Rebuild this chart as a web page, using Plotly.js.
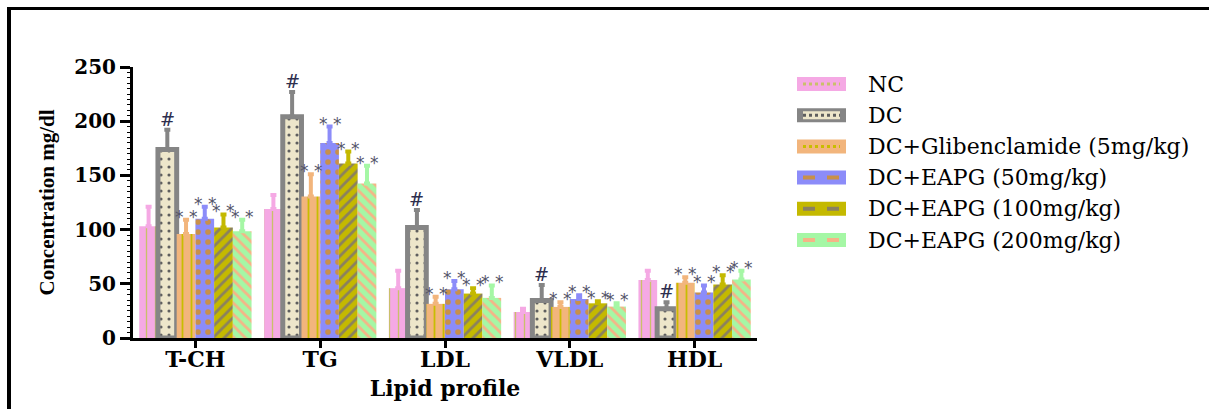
<!DOCTYPE html>
<html>
<head>
<meta charset="utf-8">
<script src="https://cdn.plot.ly/plotly-3.0.1.min.js"></script>
<style>
  html, body { margin: 0; padding: 0; background: #ffffff; }
  #wrap { position: relative; width: 1209px; height: 409px; overflow: hidden; }
  #chart { position: absolute; left: 0; top: 0; width: 1209px; height: 409px; }
  #frame { position: absolute; left: 7px; top: 7px; width: 1400px; height: 600px;
           border-top: 3px solid #000; border-left: 4px solid #000; pointer-events: none; }
</style>
</head>
<body>
<div id="wrap"><div id="chart"></div><div id="frame"></div></div>
<script>
// ---------------- data ----------------
const categories = ['T-CH', 'TG', 'LDL', 'VLDL', 'HDL'];
const seriesNames = ['NC', 'DC', 'DC+Glibenclamide (5mg/kg)', 'DC+EAPG (50mg/kg)',
                     'DC+EAPG (100mg/kg)', 'DC+EAPG (200mg/kg)'];

const ncMean      = [103, 119, 46, 24, 53.4];
const ncErr       = [18, 13, 16, 3, 8.6];
const dcMean      = [174, 204, 102, 34.6, 27];
const dcErr       = [18, 23, 16, 14.4, 6];
const glibMean    = [96, 130.5, 31.5, 28.7, 51];
const glibErr     = [13, 20.5, 6.5, 4.3, 5];
const eapg50Mean  = [110, 180, 45, 36, 42];
const eapg50Err   = [11, 15, 7.5, 3.5, 6.5];
const eapg100Mean = [102, 161, 41, 32, 49.4];
const eapg100Err  = [12, 11, 5, 2, 8.6];
const eapg200Mean = [98.5, 142.6, 37, 29, 54];
const eapg200Err  = [10.5, 16.4, 11.5, 3, 8];

const ncSig      = ['', '', '', '', ''];
const dcSig      = ['#', '#', '#', '#', '#'];
const glibSig    = ['* *', '* *', '* *', '* *', '* *'];
const eapg50Sig  = ['* *', '* *', '* *', '* *', '* *'];
const eapg100Sig = ['* *', '* *', '* *', '* *', '* *'];
const eapg200Sig = ['* *', '* *', '* *', '* *', '* *'];

const yTicks = [0, 50, 100, 150, 200, 250];

// ---------------- styles ----------------
const styles = [
  {color: '#f5a9e4', err: '#f5a9e4', shape: '|', fg: '#c9c06a', size: 9, sol: 0.15, line: 0, lineColor: '#f5a9e4'},
  {color: '#ede6ca', err: '#858585', shape: '.', fg: '#5e5e5e', size: 8, sol: 0.12, line: 5, lineColor: '#858585'},
  {color: '#f2b57c', err: '#f2b57c', shape: '|', fg: '#c8bd00', size: 9, sol: 0.2, line: 0, lineColor: '#f2b57c'},
  {color: '#8c8cf9', err: '#8c8cf9', shape: '.', fg: '#c8904a', size: 10, sol: 0.25, line: 0, lineColor: '#8c8cf9'},
  {color: '#c4b900', err: '#c4b900', shape: '/', fg: '#8a8060', size: 8, sol: 0.35, line: 0, lineColor: '#c4b900'},
  {color: '#a5f7a5', err: '#a5f7a5', shape: '\\', fg: '#f5b487', size: 8, sol: 0.35, line: 0, lineColor: '#a5f7a5'}
];

const means = [ncMean, dcMean, glibMean, eapg50Mean, eapg100Mean, eapg200Mean];
const errs  = [ncErr, dcErr, glibErr, eapg50Err, eapg100Err, eapg200Err];
const sigs  = [ncSig, dcSig, glibSig, eapg50Sig, eapg100Sig, eapg200Sig];

const traces = means.map((m, k) => ({
  type: 'bar',
  name: seriesNames[k],
  x: categories,
  y: m,
  showlegend: false,
  marker: {
    color: styles[k].color,
    line: {width: styles[k].line, color: styles[k].lineColor},
    pattern: {shape: styles[k].shape, fgcolor: styles[k].fg, bgcolor: styles[k].color,
              size: styles[k].size, solidity: styles[k].sol, fillmode: 'replace'}
  },
  error_y: {type: 'data', array: errs[k], arrayminus: errs[k].map(() => 0),
            symmetric: false, color: styles[k].err, thickness: 4, width: 3},
  hoverinfo: 'skip'
}));

// ---------------- geometry helpers ----------------
const W = 1209, H = 409;
const M = {l: 133, r: 452, t: 67, b: 71};
const plotW = W - M.l - M.r, plotH = H - M.t - M.b;
const px2paperX = px => (px - M.l) / plotW;
const px2paperY = py => (H - M.b - py) / plotH;

const nSeries = means.length;
const bargap = 0.1;
const barW = (1 - bargap) / nSeries;

const annotations = [];
means.forEach((m, k) => {
  m.forEach((v, i) => {
    const s = sigs[k][i];
    if (!s) return;
    const isHash = s === '#';
    annotations.push({
      xref: 'x', yref: 'y',
      x: i - (1 - bargap) / 2 + barW * (k + 0.5),
      y: v + errs[k][i],
      text: s, showarrow: false, xanchor: 'center', yanchor: 'bottom',
      yshift: isHash ? -2 : -9,
      font: isHash ? {family: 'DejaVu Serif', size: 18, color: '#2e2e4e'}
                   : {family: 'DejaVu Sans', size: 17, color: '#55556a'}
    });
  });
});

// manual legend
const shapes = [];
const legTop = 84, legStep = 31.2;
seriesNames.forEach((name, k) => {
  const cy = legTop + k * legStep;
  shapes.push({type: 'rect', xref: 'paper', yref: 'paper',
    x0: px2paperX(797), x1: px2paperX(846), y0: px2paperY(cy - 7), y1: px2paperY(cy + 7),
    fillcolor: k === 1 ? '#858585' : styles[k].color, line: {width: 0}});
  if (k === 1) {
    shapes.push({type: 'rect', xref: 'paper', yref: 'paper',
      x0: px2paperX(803), x1: px2paperX(840), y0: px2paperY(cy - 4), y1: px2paperY(cy + 4),
      fillcolor: styles[1].color, line: {width: 0}});
  }
  shapes.push({type: 'line', xref: 'paper', yref: 'paper',
    x0: px2paperX(803), x1: px2paperX(840), y0: px2paperY(cy), y1: px2paperY(cy),
    line: {color: styles[k].fg, width: k >= 3 ? 4 : 3, dash: k === 1 ? 'dot' : (k >= 3 ? 'dash' : 'dot')}});
  annotations.push({xref: 'paper', yref: 'paper', x: px2paperX(866), y: px2paperY(cy),
    xanchor: 'left', yanchor: 'middle', showarrow: false, text: name,
    font: {family: 'DejaVu Serif', size: 22, color: '#000'}});
});

const layout = {
  width: W, height: H,
  margin: M,
  paper_bgcolor: 'rgba(0,0,0,0)',
  plot_bgcolor: 'rgba(0,0,0,0)',
  barmode: 'group',
  bargap: bargap,
  bargroupgap: 0,
  showlegend: false,
  xaxis: {
    type: 'category',
    showline: true, linecolor: '#000', linewidth: 3,
    ticks: 'outside', ticklen: 7, tickwidth: 3, tickcolor: '#000',
    ticklabelstandoff: -7,
    showgrid: false, zeroline: false,
    tickfont: {family: 'DejaVu Serif', size: 22, color: '#000', weight: 'bold'},
    title: {text: 'Lipid profile', standoff: 10,
            font: {family: 'DejaVu Serif', size: 22, color: '#000', weight: 'bold'}}
  },
  yaxis: {
    range: [0, 250],
    tickvals: yTicks,
    showline: true, linecolor: '#000', linewidth: 3,
    ticks: 'outside', ticklen: 10, tickwidth: 3, tickcolor: '#000',
    minor: {ticks: 'outside', ticklen: 3, tickwidth: 1, tickcolor: '#000', dtick: 5, showgrid: false},
    showgrid: false, zeroline: false,
    tickfont: {family: 'DejaVu Serif', size: 20, color: '#000', weight: 'bold'},
    title: {text: 'Concentration mg/dl', standoff: 14,
            font: {family: 'Liberation Serif', size: 21, color: '#000', weight: 'bold'}}
  },
  annotations: annotations,
  shapes: shapes
};

Plotly.newPlot('chart', traces, layout, {displayModeBar: false, staticPlot: true});
</script>
</body>
</html>
